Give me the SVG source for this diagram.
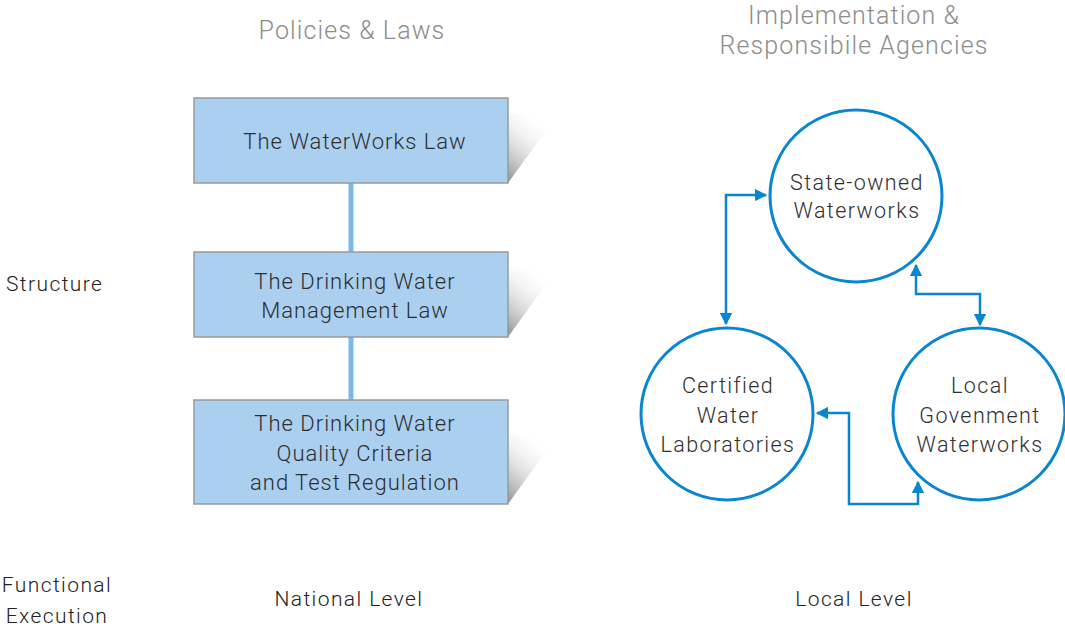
<svg xmlns="http://www.w3.org/2000/svg" width="1065" height="629" viewBox="0 0 1065 629">
<style>
.t{font-family:Roboto,"Liberation Sans",sans-serif;fill:#2e2e2e;font-weight:300;}
.h{font-family:Roboto,"Liberation Sans",sans-serif;fill:#8c8c8c;font-size:25px;font-weight:300;text-anchor:middle;letter-spacing:1.1px;}
.box{fill:#abcfee;stroke:#9a9a9a;stroke-width:1.5;}
.bt{font-size:22px;text-anchor:middle;letter-spacing:1px;}
.ct{font-size:21.5px;text-anchor:middle;letter-spacing:1.4px;}
.lt{font-size:21px;letter-spacing:1.4px;fill:#222;}
.circ{fill:#fff;stroke:#0a86d0;stroke-width:3;}
.arr{fill:none;stroke:#0a86d0;stroke-width:2.5;}
.vline{stroke:#7db9e6;stroke-width:5;}
</style>
<defs>
<linearGradient id="sh" x1="0" y1="1" x2="0.6" y2="0">
<stop offset="0" stop-color="#808080" stop-opacity="0.9"/>
<stop offset="0.5" stop-color="#c8c8c8" stop-opacity="0.5"/>
<stop offset="1" stop-color="#ffffff" stop-opacity="0"/>
</linearGradient>
<marker id="ah" viewBox="0 0 10 10" refX="9" refY="5" markerWidth="5" markerHeight="5" orient="auto-start-reverse" markerUnits="strokeWidth">
<path d="M0,0 L10,5 L0,10 z" fill="#0a86d0"/>
</marker>
</defs>
<rect width="1065" height="629" fill="#fff"/>

<text class="h" x="352" y="39">Policies &amp; Laws</text>
<text class="h" x="854" y="24">Implementation &amp;</text>
<text class="h" x="854" y="54">Responsibile Agencies</text>

<text class="t lt" x="6" y="291">Structure</text>
<text class="t lt" x="57" y="592" text-anchor="middle">Functional</text>
<text class="t lt" x="57" y="623" text-anchor="middle">Execution</text>
<text class="t lt" x="349" y="606" text-anchor="middle">National Level</text>
<text class="t lt" x="854" y="606" text-anchor="middle">Local Level</text>

<g id="connectors">
<line class="vline" x1="351" y1="183" x2="351" y2="252"/>
<line class="vline" x1="351" y1="337" x2="351" y2="400"/>
<path class="arr" d="M726,324 L726,195 L766,195" marker-start="url(#ah)" marker-end="url(#ah)"/>
<path class="arr" d="M916,265 L916,294 L980,294 L980,325" marker-start="url(#ah)" marker-end="url(#ah)"/>
<path class="arr" d="M817,413 L849,413 L849,504 L918,504 L918,482" marker-start="url(#ah)" marker-end="url(#ah)"/>
</g>

<g id="box1">
<polygon points="508,183 558,114 508,114" fill="url(#sh)"/>
<rect class="box" x="194" y="98" width="314" height="85"/>
<text class="t bt" x="355" y="149">The WaterWorks Law</text>
</g>
<g id="box2">
<polygon points="508,337 558,268 508,268" fill="url(#sh)"/>
<rect class="box" x="194" y="252" width="314" height="85"/>
<text class="t bt" x="355" y="289">The Drinking Water</text>
<text class="t bt" x="355" y="318">Management Law</text>
</g>
<g id="box3">
<polygon points="508,504 558,435 508,435" fill="url(#sh)"/>
<rect class="box" x="194" y="400" width="314" height="104"/>
<text class="t bt" x="355" y="431">The Drinking Water</text>
<text class="t bt" x="355" y="461">Quality Criteria</text>
<text class="t bt" x="355" y="490">and Test Regulation</text>
</g>

<g id="state">
<circle class="circ" cx="856" cy="196" r="86"/>
<text class="t ct" x="857" y="190">State-owned</text>
<text class="t ct" x="857" y="218">Waterworks</text>
</g>
<g id="labs">
<circle class="circ" cx="727" cy="414" r="86"/>
<text class="t ct" x="728" y="393">Certified</text>
<text class="t ct" x="728" y="423">Water</text>
<text class="t ct" x="728" y="452">Laboratories</text>
</g>
<g id="local">
<circle class="circ" cx="979" cy="414" r="86"/>
<text class="t ct" x="980" y="393">Local</text>
<text class="t ct" x="980" y="423">Govenment</text>
<text class="t ct" x="980" y="452">Waterworks</text>
</g>
</svg>
